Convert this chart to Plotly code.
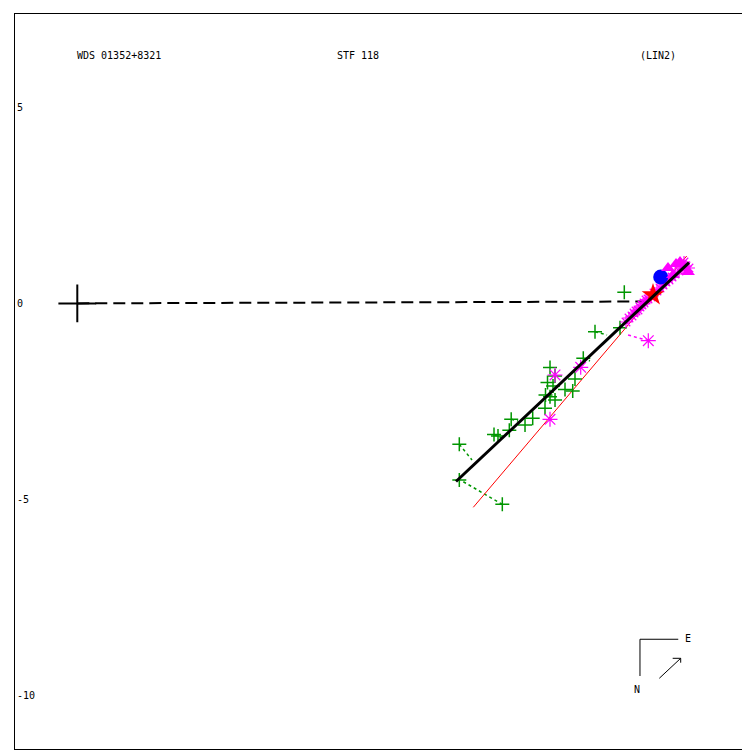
import plotly.graph_objects as go

# ---- data (arcsec, primary at origin) ----
orbit_x = [9.671, 11.50, 13.279, 15.620]
orbit_y = [-4.548, -2.830, -1.165, 1.039]

prev_orbit_x = [10.112, 15.562]
prev_orbit_y = [-5.207, 1.210]

node_x = [0.0, 14.676]
node_y = [0.0, 0.049]

green_x = [9.755, 9.755, 10.853, 10.641, 10.743, 11.032, 11.080, 11.433, 11.629, 11.943,
           12.071, 12.007, 11.956, 12.071, 12.199, 12.454, 12.651, 12.709, 12.921, 13.220,
           13.859, 13.968, 12.148, 12.199]
green_y = [-3.598, -4.510, -5.130, -3.348, -3.386, -3.241, -2.957, -3.105, -2.934, -2.679,
           -1.637, -2.020, -2.339, -2.383, -2.467, -2.199, -2.237, -1.931, -1.402, -0.723,
           -0.621, 0.283, -2.109, -1.851]

# residual pairs: observed -> predicted
res_obs_x = [9.755, 10.853, 10.641, 11.080, 13.220, 12.921]
res_obs_y = [-3.598, -5.130, -3.348, -2.957, -0.723, -1.402]
res_pred_x = [10.079, 9.824, 10.845, 11.254, 13.527, 13.092]
res_pred_y = [-3.999, -4.535, -3.437, -3.003, -0.807, -1.471]

mag_big_x = [12.199, 12.071, 12.855, 14.581]
mag_big_y = [-1.828, -2.960, -1.632, -0.952]

mag_small_x = [14.012, 14.088, 14.165, 14.216, 14.267, 14.318, 14.369, 14.420, 14.472, 14.523,
               14.574, 14.650, 14.727, 14.803, 14.880, 14.957, 15.033, 15.110, 15.187, 15.263,
               15.365, 15.442, 15.544, 15.620, 15.493]
mag_small_y = [-0.475, -0.373, -0.322, -0.245, -0.194, -0.169, -0.092, -0.041, 0.010, 0.087,
               0.112, 0.163, 0.266, 0.317, 0.393, 0.470, 0.546, 0.598, 0.674, 0.751,
               0.827, 0.904, 0.955, 0.904, 1.057]

mag_res_x = [14.581, 14.063]
mag_res_y = [-0.952, -0.807]

mag_tri_x = [15.084, 15.289, 15.493, 15.595, 15.212, 15.391]
mag_tri_y = [0.904, 1.006, 0.904, 0.802, 0.725, 1.057]

blue_x = [14.898]
blue_y = [0.674]

red_x = [14.701]
red_y = [0.215]

ytick_vals = [5, 0, -5, -10]
ytick_text = ["5", "0", "-5", "-10"]

GREEN = "rgb(0,150,0)"
MAG = "rgb(255,0,255)"

fig = go.Figure()

# residual lines (green dotted)
for ox, oy, px, py in zip(res_obs_x, res_obs_y, res_pred_x, res_pred_y):
    fig.add_trace(go.Scatter(x=[ox, px], y=[oy, py], mode="lines",
                             line=dict(color=GREEN, width=1.5, dash="dot"),
                             showlegend=False, hoverinfo="skip"))
fig.add_trace(go.Scatter(x=mag_res_x, y=mag_res_y, mode="lines",
                         line=dict(color=MAG, width=1.5, dash="dot"),
                         showlegend=False, hoverinfo="skip"))

# line of nodes (dashed)
fig.add_trace(go.Scatter(x=node_x, y=node_y, mode="lines",
                         line=dict(color="black", width=2, dash="12px,6px"),
                         showlegend=False))
# previous orbit (red)
fig.add_trace(go.Scatter(x=prev_orbit_x, y=prev_orbit_y, mode="lines",
                         line=dict(color="red", width=1), showlegend=False))

# observations
fig.add_trace(go.Scatter(x=green_x, y=green_y, mode="markers",
                         marker=dict(symbol="cross-thin", size=10, color=GREEN,
                                     line=dict(color=GREEN, width=1.5)),
                         showlegend=False))
fig.add_trace(go.Scatter(x=mag_small_x, y=mag_small_y, mode="markers",
                         marker=dict(symbol="asterisk-open", size=10, color=MAG,
                                     line=dict(color=MAG, width=1.2)),
                         showlegend=False))
fig.add_trace(go.Scatter(x=mag_big_x, y=mag_big_y, mode="markers",
                         marker=dict(symbol="asterisk-open", size=12.5, color=MAG,
                                     line=dict(color=MAG, width=1.2)),
                         showlegend=False))
fig.add_trace(go.Scatter(x=blue_x, y=blue_y, mode="markers",
                         marker=dict(symbol="circle", size=15, color="blue"),
                         showlegend=False))
fig.add_trace(go.Scatter(x=mag_tri_x, y=mag_tri_y, mode="markers",
                         marker=dict(symbol="triangle-up", size=12, color=MAG),
                         showlegend=False))
fig.add_trace(go.Scatter(x=red_x, y=red_y, mode="markers",
                         marker=dict(symbol="star", size=17, color="red"),
                         showlegend=False))

# orbit (black)
fig.add_trace(go.Scatter(x=orbit_x, y=orbit_y, mode="lines",
                         line=dict(color="black", width=3), showlegend=False))

# primary
fig.add_trace(go.Scatter(x=[0], y=[0], mode="markers",
                         marker=dict(symbol="cross-thin", size=27, color="black",
                                     line=dict(color="black", width=2)),
                         showlegend=False))

FONT = dict(family="DejaVu Sans Mono", size=10, color="black")

annots = [
    dict(text="WDS 01352+8321", x=0.0816, y=0.9442),
    dict(text="STF 118", x=0.4354, y=0.9442),
    dict(text="(LIN2)", x=0.8476, y=0.9442),
]
for a in annots:
    fig.add_annotation(text=a["text"], x=a["x"], y=a["y"], xref="paper", yref="paper",
                       xanchor="left", yanchor="middle", showarrow=False, font=FONT)
fig.add_annotation(text="E", x=0.9161, y=0.1506, xref="paper", yref="paper",
                   xanchor="center", yanchor="middle", showarrow=False, font=FONT)
fig.add_annotation(text="N", x=0.8467, y=0.0803, xref="paper", yref="paper",
                   xanchor="center", yanchor="middle", showarrow=False, font=FONT)

# compass
shapes = [
    dict(type="line", xref="paper", yref="paper", x0=0.8503, y0=0.0993, x1=0.8503, y1=0.1493,
         line=dict(color="black", width=1)),
    dict(type="line", xref="paper", yref="paper", x0=0.8503, y0=0.1493, x1=0.9024, y1=0.1493,
         line=dict(color="black", width=1)),
    dict(type="line", xref="paper", yref="paper", x0=0.8766, y0=0.0962, x1=0.9057, y1=0.1234,
         line=dict(color="black", width=1)),
    dict(type="line", xref="paper", yref="paper", x0=0.8948, y0=0.1234, x1=0.9057, y1=0.1234,
         line=dict(color="black", width=1)),
    dict(type="line", xref="paper", yref="paper", x0=0.9057, y0=0.1234, x1=0.9057, y1=0.1174,
         line=dict(color="black", width=1)),
]
fig.update_layout(shapes=shapes)

fig.update_layout(
    width=750, height=750,
    margin=dict(l=7, r=8, t=6, b=9),
    paper_bgcolor="white", plot_bgcolor="white",
    xaxis=dict(range=[-1.591, 17.178], showgrid=False, zeroline=False,
               showticklabels=False, ticks="", showline=True, linecolor="black",
               linewidth=1, mirror=True),
    yaxis=dict(range=[-11.379, 7.390], showgrid=False, zeroline=False,
               tickvals=ytick_vals, ticktext=ytick_text, ticks="",
               ticklabelposition="inside", ticklabelstandoff=1,
               tickfont=FONT, showline=True, linecolor="black", linewidth=1,
               mirror=False),
    showlegend=False,
)

fig.write_html("out.html")
